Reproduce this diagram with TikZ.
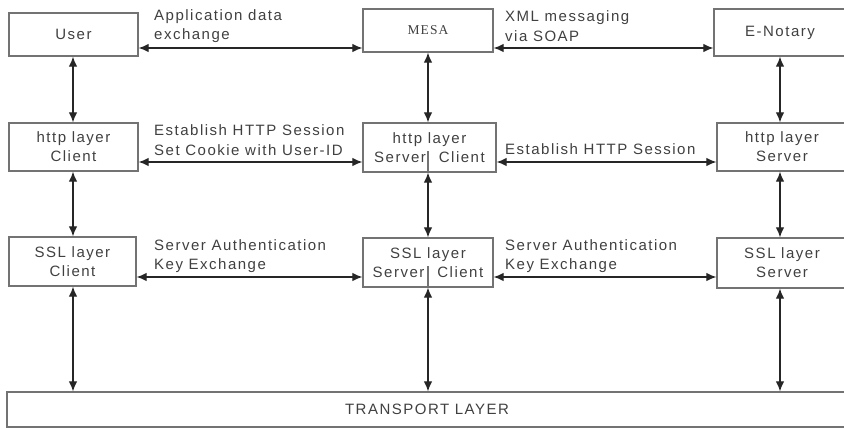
\documentclass[tikz,border=0pt]{standalone}
\usepackage{fontspec}
\usetikzlibrary{arrows.meta}
\newfontfamily\diafont[LetterSpace=10]{Liberation Sans}
\newfontfamily\mesafont[LetterSpace=8]{Liberation Serif}
\tikzset{
  box/.style={draw=black!55, line width=1.3pt, inner sep=0pt, align=center,
    text=black!75, font=\diafont\fontsize{15}{19}\selectfont},
  lbl/.style={anchor=west, inner sep=0pt, align=left, text=black!75,
    font=\diafont\fontsize{15}{19.5}\selectfont},
  link/.style={<->, >={Latex[length=10pt,width=8.5pt]}, black!85, line width=1.2pt}
}
\begin{document}
\begin{tikzpicture}[x=1pt,y=-1pt]
      \useasboundingbox (0,0) rectangle (844,428);
      \coordinate (c1) at (73,0);
      \coordinate (c2) at (428,0);
      \coordinate (c3) at (780,0);
      \coordinate (r1) at (0,48);
      \coordinate (r2) at (0,162);
      \coordinate (r3) at (0,277);
      \node[box, minimum width=129pt, minimum height=43pt] (user) at (73.5,34.5) {User};
      \node[box, minimum width=130pt, minimum height=43pt, font=\mesafont\fontsize{13.5}{16}\selectfont] (mesa) at (428,30.5) {MESA};
      \node[box, minimum width=132pt, minimum height=47pt] (enot) at (780,32.5) {E-Notary};
      \node[box, minimum width=129pt, minimum height=48pt] (hcli) at (73.5,147) {http layer\\Client};
      \node[box, minimum width=133pt, minimum height=49pt] (hmid) at (429.5,147.5) {http layer\\Server\hspace{13pt}Client};
      \node[box, minimum width=130pt, minimum height=48pt] (hsrv) at (782,147) {http layer\\Server};
      \node[box, minimum width=127pt, minimum height=49pt] (scli) at (72.5,261.5) {SSL layer\\Client};
      \node[box, minimum width=130pt, minimum height=49pt] (smid) at (428,262.5) {SSL layer\\Server\hspace{13pt}Client};
      \node[box, minimum width=130pt, minimum height=50pt] (ssrv) at (782,263) {SSL layer\\Server};
      \node[box, minimum width=840pt, minimum height=35pt] (trans) at (427,409.5) {TRANSPORT LAYER};
      \node[lbl] (app) at (154,26) {Application data\\exchange};
      \node[lbl] (xml) at (505,26) {XML messaging\\via SOAP};
      \node[lbl] (sess) at (154,140) {Establish HTTP Session\\Set Cookie with User-ID};
      \node[lbl] (sess2) at (505,149) {Establish HTTP Session};
      \node[lbl] (auth) at (154,256) {Server Authentication\\Key Exchange};
      \node[lbl] (auth2) at (505,256) {Server Authentication\\Key Exchange};
      \draw[box] (c2 |- hmid.south) -- ++(0,-22);
      \draw[box] (c2 |- smid.south) -- ++(0,-22);
      \draw[link] (user.east |- r1) -- (mesa.west |- r1);
      \draw[link] (mesa.east |- r1) -- (enot.west |- r1);
      \draw[link] (hcli.east |- r2) -- (hmid.west |- r2);
      \draw[link] (hmid.east |- r2) -- (hsrv.west |- r2);
      \draw[link] (scli.east |- r3) -- (smid.west |- r3);
      \draw[link] (smid.east |- r3) -- (ssrv.west |- r3);
      \draw[link] (c1 |- user.south) -- (c1 |- hcli.north);
      \draw[link] (c1 |- hcli.south) -- (c1 |- scli.north);
      \draw[link] (c1 |- scli.south) -- (c1 |- trans.north);
      \draw[link] (c2 |- mesa.south) -- (c2 |- hmid.north);
      \draw[link] (c2 |- hmid.south) -- (c2 |- smid.north);
      \draw[link] (c2 |- smid.south) -- (c2 |- trans.north);
      \draw[link] (c3 |- enot.south) -- (c3 |- hsrv.north);
      \draw[link] (c3 |- hsrv.south) -- (c3 |- ssrv.north);
      \draw[link] (c3 |- ssrv.south) -- (c3 |- trans.north);
\end{tikzpicture}
\end{document}
